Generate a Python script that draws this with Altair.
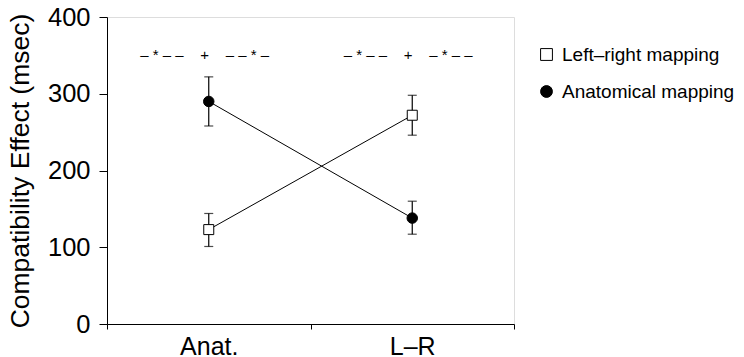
import altair as alt
import pandas as pd

conditions = ["Anat.", "L\u2013R"]
series = ["Left\u2013right mapping", "Anatomical mapping"]
lr_mean = [123, 272]
lr_lo = [101, 246]
lr_hi = [144, 298]
an_mean = [290, 138]
an_lo = [258, 117]
an_hi = [322, 160]
ann_text = ["\u2013 * \u2013 \u2013\u00a0\u00a0\u00a0\u00a0+\u00a0\u00a0\u00a0\u00a0\u2013 \u2013 * \u2013",
            "\u2013 * \u2013 \u2013\u00a0\u00a0\u00a0\u00a0+\u00a0\u00a0\u00a0\u00a0\u2013 * \u2013 \u2013"]
ann_y = [350, 350]

rows = []
for i, c in enumerate(conditions):
    rows.append({"cond": c, "series": series[0], "mean": lr_mean[i], "lo": lr_lo[i], "hi": lr_hi[i]})
    rows.append({"cond": c, "series": series[1], "mean": an_mean[i], "lo": an_lo[i], "hi": an_hi[i]})
df = pd.DataFrame(rows)
ann = pd.DataFrame({"cond": conditions, "text": ann_text, "y": ann_y})

FONT = "Liberation Sans"
xenc = alt.X("cond:N", sort=conditions, title=None,
             scale=alt.Scale(domain=conditions, paddingInner=0, paddingOuter=0),
             axis=alt.Axis(labelAngle=0, labelFontSize=25, labelColor="black", labelFont=FONT,
                           tickBand="extent", tickSize=5, tickColor="black", domainColor="black",
                           labelPadding=5))
yscale = alt.Scale(domain=[0, 400])
yaxis = alt.Axis(values=[0, 100, 200, 300, 400], labelFontSize=25.5, labelFont=FONT, labelColor="black",
                 tickSize=8, tickColor="black", domainColor="black", grid=False, labelPadding=9,
                 title="Compatibility Effect (msec)", titleFontSize=26.5, titleFont=FONT,
                 titleFontWeight="normal", titleColor="black", titlePadding=13)

base = alt.Chart(df)

lines = base.mark_line(color="black", strokeWidth=1).encode(
    x=xenc, y=alt.Y("mean:Q", scale=yscale, axis=yaxis), detail="series:N")

rules = base.mark_rule(color="black", strokeWidth=1.2).encode(
    x=xenc, y=alt.Y("lo:Q", scale=yscale), y2="hi:Q")

cap_lo = base.mark_tick(color="black", size=9, thickness=1.2).encode(
    x=xenc, y=alt.Y("lo:Q", scale=yscale))
cap_hi = base.mark_tick(color="black", size=9, thickness=1.2).encode(
    x=xenc, y=alt.Y("hi:Q", scale=yscale))

leg = alt.Legend(title=None, orient="none", legendX=430, legendY=28,
                 labelFontSize=19, labelFont=FONT, labelColor="black", labelLimit=400,
                 rowPadding=17, labelOffset=6, symbolSize=140,
                 symbolStrokeColor="black", symbolStrokeWidth=1)

points = base.mark_point(filled=True, stroke="black", strokeWidth=1, opacity=1).encode(
    x=xenc, y=alt.Y("mean:Q", scale=yscale),
    shape=alt.Shape("series:N", sort=series,
                    scale=alt.Scale(domain=series, range=["square", "circle"]), legend=leg),
    fill=alt.Fill("series:N", sort=series,
                  scale=alt.Scale(domain=series, range=["white", "black"]), legend=leg),
    stroke=alt.Stroke("series:N", sort=series,
                      scale=alt.Scale(domain=series, range=["black", "black"]), legend=leg),
    size=alt.condition(alt.datum.series == series[0], alt.value(100), alt.value(110)),
)

texts = alt.Chart(ann).mark_text(fontSize=15, font=FONT, color="black", dx=-4).encode(
    x=xenc, y=alt.Y("y:Q", scale=yscale), text="text:N")

chart = alt.layer(lines, rules, cap_lo, cap_hi, points, texts).properties(
    width=407, height=307,
    autosize=alt.AutoSizeParams(type="none"),
    padding={"left": 99, "top": 9, "right": 222, "bottom": 40},
).configure_view(stroke="black", strokeWidth=1.2).configure(background="white")

chart.save("out.html", embed_options={"renderer": "svg", "actions": False})
